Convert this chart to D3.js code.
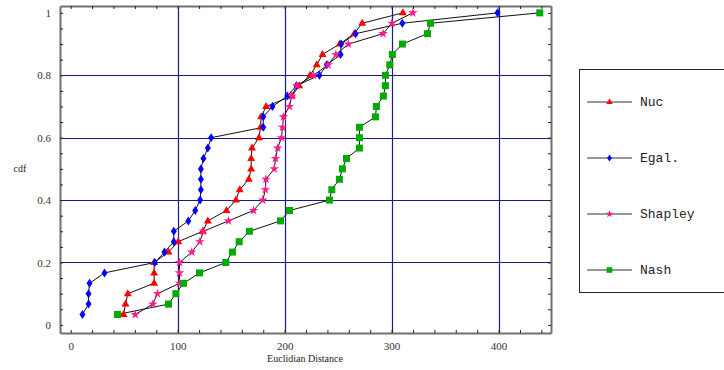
<!DOCTYPE html>
<html>
<head>
<meta charset="utf-8">
<script src="https://cdn.jsdelivr.net/npm/d3@7"></script>
<style>
body { margin:0; background:#fff; }
svg text.serif { font-family: "Liberation Serif", "DejaVu Serif", serif !important; }
svg text.mono { font-family: "Liberation Mono", "DejaVu Sans Mono", monospace !important; }
</style>
</head>
<body>
<svg id="chart" width="724" height="370"></svg>
<script>
// distances sorted, cdf = i/30
var nuc = [49.4, 51.2, 53.4, 78, 78, 78, 91.4, 100.5, 123.5, 128.2, 145.6, 154.5, 158, 166.5, 168.7,
  168.7, 169.5, 176, 177.5, 178, 182.7, 206.7, 213.6, 223.8, 230, 235.4, 251.5, 265, 272.5, 310.5];
var egal = [11, 16.7, 16.7, 17.6, 31.6, 78.7, 87.7, 96.4, 96.4, 110, 116.4, 121, 121.7, 121.7, 121.7,
  124.1, 128.2, 131.3, 180, 180, 188.6, 202.5, 211, 232.5, 239.4, 252.3, 252.8, 266.3, 310, 399];
var shapley = [60.3, 76.8, 81.1, 101.7, 101.7, 101.7, 113.2, 120.7, 124.1, 147.5, 170.9, 179.6, 182, 182.5, 190.3,
  191.5, 193.5, 197, 198, 198.9, 204.5, 206.7, 211.4, 226.9, 240.6, 247.9, 259.6, 292, 300.2, 319.8];
var nash = [43.7, 91.4, 98.3, 105.4, 120.4, 145, 151.2, 157.5, 167.1, 196.1, 204.5, 241.9, 244.1, 251.2, 254,
  257.8, 269.9, 269.9, 269.9, 284.9, 285.8, 292.3, 294.2, 294.2, 298.3, 300.7, 310.1, 333.5, 336.3, 438.5];
var seriesNames = ["Nuc", "Egal.", "Shapley", "Nash"];
var xTicks = [0, 100, 200, 300, 400];
var yTicks = [0, 0.2, 0.4, 0.6, 0.8, 1];

var svg = d3.select("#chart");
var x = d3.scaleLinear().domain([-10, 449]).range([60, 551]);
var y = d3.scaleLinear().domain([-0.026, 1.022]).range([333, 6]);

var series = [
  {name: seriesNames[0], vals: nuc, color: "#ff0000", sym: "tri"},
  {name: seriesNames[1], vals: egal, color: "#0000ff", sym: "dia"},
  {name: seriesNames[2], vals: shapley, color: "#ff1a8c", sym: "star"},
  {name: seriesNames[3], vals: nash, color: "#00aa00", sym: "sq"}
];

function symPath(s) {
  if (s == "tri") return "M0,-4.5L4,2.5L-4,2.5Z";
  if (s == "dia") return "M0,-4.5L3,0L0,4.5L-3,0Z";
  if (s == "sq") return "M-3.5,-3.5H3.5V3.5H-3.5Z";
  return d3.symbol().type(d3.symbolStar).size(28)();
}

// grid
var g = svg.append("g");
g.selectAll(".gx").data(xTicks.filter(function(d){ return d > 0; })).enter().append("line")
  .attr("x1", function(d){ return Math.round(x(d)) + 0.5; })
  .attr("x2", function(d){ return Math.round(x(d)) + 0.5; })
  .attr("y1", y.range()[0]).attr("y2", y.range()[1])
  .attr("stroke", "#1a1a8c").attr("stroke-width", 1.2);
g.selectAll(".gy").data(yTicks.filter(function(d){ return d > 0 && d < 1; })).enter().append("line")
  .attr("y1", function(d){ return Math.round(y(d)) + 0.5; })
  .attr("y2", function(d){ return Math.round(y(d)) + 0.5; })
  .attr("x1", x.range()[0]).attr("x2", x.range()[1])
  .attr("stroke", "#1a1a8c").attr("stroke-width", 1.2);

// axes (ticks inward on all four sides)
var minorX = d3.range(0, 441, 20), minorY = d3.range(0, 1.001, 0.05);
function styleAxis(sel) {
  sel.attr("font-family", null);
  sel.select(".domain").attr("stroke", "#707070").attr("stroke-width", 2);
  sel.selectAll(".tick line").attr("stroke", "#222");
  sel.selectAll("text").attr("class", "serif").style("font-size", "11px").attr("fill", "#333");
}
svg.append("g").attr("transform", "translate(0,333)")
  .call(d3.axisBottom(x).tickValues(minorX).tickSize(-3).tickSizeOuter(0)
    .tickFormat(function(d){ return d % 100 == 0 ? d : ""; }).tickPadding(9))
  .call(styleAxis);
svg.append("g").attr("transform", "translate(0,6)")
  .call(d3.axisTop(x).tickValues(minorX).tickSize(-3).tickSizeOuter(0).tickFormat(""))
  .call(styleAxis);
svg.append("g").attr("transform", "translate(60,0)")
  .call(d3.axisLeft(y).tickValues(minorY).tickSize(-3).tickSizeOuter(0)
    .tickFormat(function(d){ var r = Math.round(d * 100); return r % 20 == 0 ? d3.format("")(r / 100) : ""; }).tickPadding(9))
  .call(styleAxis);
svg.append("g").attr("transform", "translate(551,0)")
  .call(d3.axisRight(y).tickValues(minorY).tickSize(-3).tickSizeOuter(0).tickFormat(""))
  .call(styleAxis);

// axis titles
svg.append("text").attr("class", "serif").attr("x", 20).attr("y", 172).attr("text-anchor", "middle")
  .style("font-size", "10px").attr("fill", "#222").text("cdf");
svg.append("text").attr("class", "serif").attr("x", 305).attr("y", 362).attr("text-anchor", "middle")
  .style("font-size", "10px").attr("fill", "#222").text("Euclidian Distance");

// lines and markers
var line = d3.line().x(function(d, i){ return x(d); }).y(function(d, i){ return y((i + 1) / 30); });
series.forEach(function(s) {
  svg.append("path").datum(s.vals).attr("d", line)
    .attr("fill", "none").attr("stroke", "#111").attr("stroke-width", 1);
});
series.forEach(function(s) {
  svg.append("g").selectAll("path").data(s.vals).enter().append("path")
    .attr("d", symPath(s.sym))
    .attr("transform", function(d, i){ return "translate(" + x(d) + "," + y((i + 1) / 30) + ")"; })
    .attr("fill", s.color);
});

// legend
var leg = svg.append("g");
leg.append("rect").attr("x", 579.5).attr("y", 69.5).attr("width", 160).attr("height", 223)
  .attr("fill", "#fff").attr("stroke", "#222").attr("stroke-width", 1);
series.forEach(function(s, i) {
  var ly = 102 + i * 56;
  leg.append("line").attr("x1", 587).attr("x2", 632).attr("y1", ly).attr("y2", ly)
    .attr("stroke", "#333").attr("stroke-width", 1);
  leg.append("path").attr("d", symPath(s.sym)).attr("transform", "translate(609.5," + ly + ") scale(0.8)")
    .attr("fill", s.color);
  leg.append("text").attr("class", "mono").attr("x", 640).attr("y", ly + 4)
    .style("font-size", "13px").attr("fill", "#222").text(s.name);
});
</script>
</body>
</html>
